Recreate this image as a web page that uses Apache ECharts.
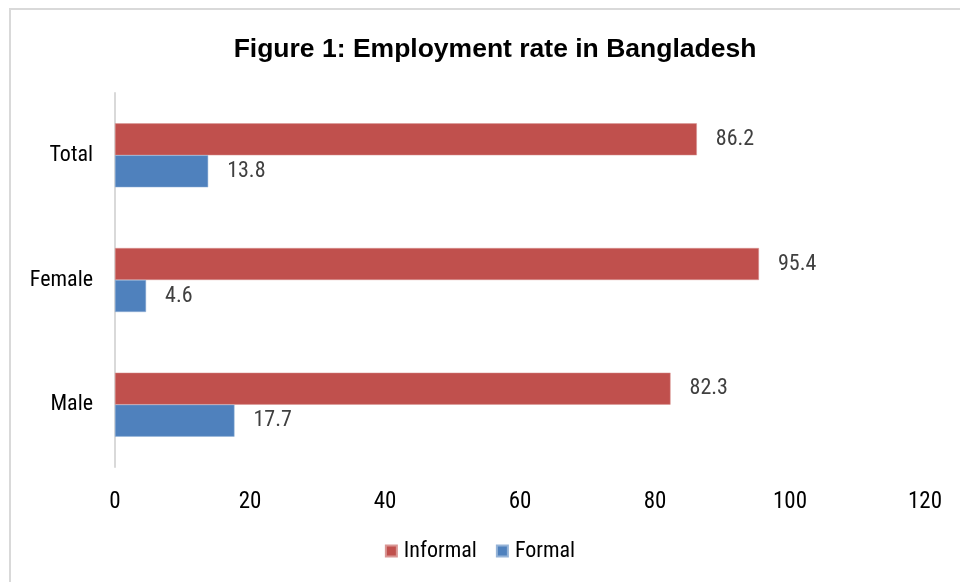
<!DOCTYPE html>
<html>
<head>
<meta charset="utf-8">
<script src="https://cdn.jsdelivr.net/npm/echarts@6/dist/echarts.min.js"></script>
<style>
html,body{margin:0;padding:0;background:#fff;}
#c{width:960px;height:582px;}
</style>
</head>
<body>
<div id="c"></div>
<script>
var titleText = 'Figure 1: Employment rate in Bangladesh';
var categories = ['Male', 'Female', 'Total'];
var informal = [82.3, 95.4, 86.2];
var formal = [17.7, 4.6, 13.8];
var seriesNames = ['Informal', 'Formal'];
var xTicks = [0, 20, 40, 60, 80, 100, 120];

var narrow = '"Liberation Sans Narrow", "Arial Narrow", "Roboto Condensed", sans-serif';
var chart = echarts.init(document.getElementById('c'), null, {renderer: 'canvas'});
chart.setOption({
  animation: false,
  backgroundColor: '#fff',
  graphic: [
    {type: 'line', shape: {x1: 9, y1: 9, x2: 960, y2: 9}, style: {stroke: '#d9d9d9', lineWidth: 2}},
    {type: 'line', shape: {x1: 10, y1: 8, x2: 10, y2: 582}, style: {stroke: '#d9d9d9', lineWidth: 2}}
  ],
  title: {
    text: titleText,
    left: 490, top: 31, textAlign: 'center',
    textStyle: {fontFamily: '"Liberation Sans", Arial, sans-serif', fontWeight: 'bold', fontSize: 26.5, color: '#000'}
  },
  legend: {
    data: seriesNames,
    left: 'center', top: 535,
    itemWidth: 11, itemHeight: 11, itemGap: 19,
    icon: 'rect',
    textStyle: {fontFamily: narrow, fontSize: 22, color: '#000', padding: [0, 0, 0, 2]}
  },
  grid: {left: 115, right: 35, top: 93, bottom: 115, containLabel: false},
  xAxis: {
    type: 'value', min: xTicks[0], max: xTicks[xTicks.length - 1], interval: 20,
    axisLine: {show: false}, axisTick: {show: false}, splitLine: {show: false},
    axisLabel: {fontFamily: narrow, fontSize: 23, color: '#000', margin: 24}
  },
  yAxis: {
    type: 'category', data: categories,
    axisLine: {show: true, lineStyle: {color: '#d9d9d9', width: 2}},
    axisTick: {show: false},
    axisLabel: {fontFamily: narrow, fontSize: 22, color: '#000', margin: 22, padding: [4, 0, 0, 0]}
  },
  series: [
    {
      name: seriesNames[0], type: 'bar', data: informal,
      barWidth: 32, barGap: '0%',
      itemStyle: {color: '#c0504d', borderColor: '#d99694', borderWidth: 0.5},
      label: {show: true, position: 'right', distance: 19, fontFamily: narrow, fontSize: 22, color: '#404040'}
    },
    {
      name: seriesNames[1], type: 'bar', data: formal,
      barWidth: 32, barGap: '0%',
      itemStyle: {color: '#4f81bd', borderColor: '#95b3d7', borderWidth: 0.5},
      label: {show: true, position: 'right', distance: 19, fontFamily: narrow, fontSize: 22, color: '#404040'}
    }
  ]
});
</script>
</body>
</html>
